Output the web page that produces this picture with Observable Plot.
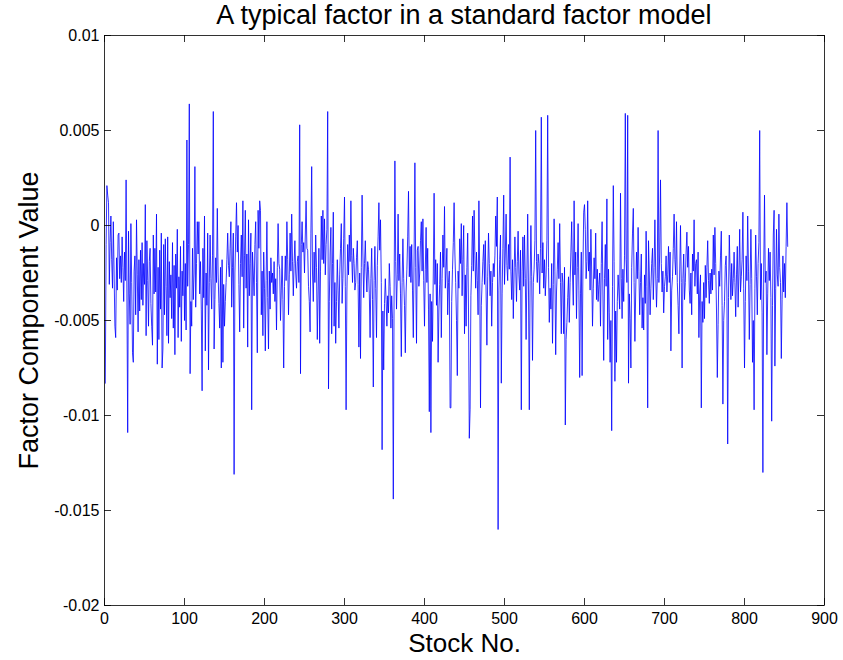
<!DOCTYPE html>
<html>
<head>
<meta charset="utf-8">
<script src="https://cdn.jsdelivr.net/npm/d3@7"></script>
<script src="https://cdn.jsdelivr.net/npm/@observablehq/plot@0.6"></script>
<style>
  body { margin: 0; background: #fff; font-family: "Liberation Sans", Arial, sans-serif; }
  #title { width: 843px; height: 29px; box-sizing: border-box; padding-top: 2px; padding-left: 85px;
           text-align: center; font-size: 27px; line-height: 27px; color: #000; white-space: nowrap; }
  #chart svg { overflow: visible; display: block; }
</style>
</head>
<body>
<div id="title"></div>
<div id="chart"></div>
<script>
const chartTitle = "A typical factor in a standard factor model";
const xLabel = "Stock No.";
const yLabel = "Factor Component Value";
const xTicks = [0, 100, 200, 300, 400, 500, 600, 700, 800, 900];
const yTicks = [-0.02, -0.015, -0.01, -0.005, 0, 0.005, 0.01];
const yTickLabels = ["-0.02", "-0.015", "-0.01", "-0.005", "0", "0.005", "0.01"];

// factor component value for each stock (stock numbers 1..N)
const factorValues = [
-0.0083,-0.001,0.0021,0.0016,0.0012,-0.0031,-0.0009,0.0005,-0.0018,-0.0033,0.0002,-0.0025,-0.0053,-0.0059,-0.0017,-0.0034,-0.0005,-0.0004,-0.0028,-0.0016,-0.003,-0.0006,-0.0022,-0.004,-0.0014,
-0.0029,0.0024,-0.0035,-0.0109,-0.0003,-0.0036,-0.0052,0.0001,-0.003,-0.0067,-0.0072,-0.0024,-0.0016,-0.0047,0.0003,-0.0026,-0.0056,-0.0018,-0.0045,-0.0013,-0.0039,-0.0009,-0.0042,-0.002,-0.0031,
0.0011,-0.0058,-0.0008,-0.0029,-0.0053,-0.0019,-0.0012,-0.0041,-0.0053,-0.0063,-0.0005,-0.0036,-0.0012,-0.0035,0.0006,-0.0073,-0.0022,-0.006,-0.0013,-0.0044,-0.0004,-0.0075,-0.0065,-0.001,-0.0047,
-0.0007,-0.0032,-0.0058,-0.0006,-0.0062,-0.0019,-0.0038,-0.0026,-0.0049,-0.0009,-0.0054,-0.0021,-0.0068,-0.0015,-0.0033,-0.0002,-0.0059,-0.0027,-0.0043,-0.0011,-0.0061,-0.0024,-0.0037,-0.0008,-0.005,
-0.002,-0.0055,0.0045,-0.0032,-0.001,0.0064,-0.0078,-0.004,-0.0053,-0.0012,-0.0039,-0.0025,0.0031,-0.0043,-0.002,0.0002,-0.0015,0.0002,-0.0036,-0.0019,-0.0044,-0.0087,-0.0012,-0.0038,0.0005,
-0.0066,-0.0025,-0.0042,-0.0004,-0.0076,-0.003,-0.0005,-0.0028,-0.0044,-0.0016,0.006,-0.0065,-0.0039,-0.0017,-0.003,0.0009,-0.0025,-0.0041,-0.0054,-0.0022,-0.0075,-0.0018,-0.0072,-0.0031,-0.0053,
-0.004,-0.003,-0.0018,-0.0004,-0.0021,-0.0027,-0.0012,0.0002,-0.0043,-0.0022,-0.0004,-0.0131,-0.0025,-0.0006,0.0012,-0.0014,0,-0.0031,-0.0056,-0.002,-0.0005,-0.0027,0.0013,-0.0054,-0.0016,0.0008,-0.0033,-0.0015,-0.0064,0.0003,-0.0037,-0.002,-0.0004,-0.0097,
-0.0014,-0.0025,-0.0037,-0.001,0.0002,-0.003,-0.0067,0.0008,-0.0012,0.0013,0.0008,-0.0047,-0.0024,-0.0058,-0.0014,-0.0033,-0.0066,-0.0029,0.0002,-0.0038,-0.0065,-0.0024,-0.0044,-0.0017,-0.003,-0.0025,-0.0036,-0.0019,-0.004,-0.0028,-0.0055,-0.0022,0.0001,-0.002,-0.0023,-0.005,-0.0034,-0.0016,-0.0039,-0.0075,-0.0032,-0.0016,-0.0029,0.0002,-0.0018,-0.0047,-0.0026,-0.0004,-0.0024,0.0006,-0.0019,-0.0037,-0.002,-0.0008,-0.0025,-0.0033,-0.0019,-0.0016,-0.003,0.0053,-0.0078,-0.001,0.0002,-0.0014,-0.0009,-0.0025,
-0.0005,0.0013,-0.0012,-0.0013,-0.0032,-0.004,-0.0056,-0.0004,0.0031,-0.0025,-0.004,-0.0014,-0.003,-0.0005,-0.0022,-0.006,-0.0035,-0.0012,-0.0062,-0.0024,0.0005,-0.0018,0.0008,-0.002,0.00035,-0.0026,-0.001,-0.0002,0.006,-0.0086,
-0.004,-0.0015,-0.0001,-0.0057,-0.002,0.0007,-0.0053,-0.003,-0.0062,-0.004,
-0.0018,-0.0034,-0.0054,-0.0026,-0.0012,0.0001,-0.0041,-0.0028,-0.0007,0.0015,
-0.0032,-0.0097,-0.0035,-0.001,-0.0026,-0.0005,-0.0019,0.0013,-0.0016,-0.003,
-0.0012,-0.002,-0.0034,-0.003,-0.0017,-0.0008,-0.0031,-0.0064,-0.0025,-0.007,
-0.0022,0.0016,-0.0015,-0.0038,-0.002,-0.0008,-0.0024,-0.0035,-0.0019,-0.0023,
-0.0036,-0.0059,-0.0028,-0.0012,-0.0039,-0.0085,-0.0029,-0.0011,-0.0033,-0.0059,
-0.0021,-0.0006,0.0012,-0.0013,0.0003,-0.003,-0.0118,-0.0045,-0.0076,-0.0041,
-0.0028,-0.0039,-0.0053,-0.0037,-0.0046,-0.002,-0.0032,-0.0054,-0.0037,-0.0049,
-0.0144,-0.0035,0.0034,-0.0019,-0.0044,-0.0026,0.0006,-0.0029,-0.0015,-0.0036,
-0.0069,-0.003,-0.0007,-0.0028,-0.0042,-0.0067,-0.0035,-0.0023,-0.0006,0.0018,
-0.0027,-0.0011,-0.003,-0.001,-0.0034,-0.0059,-0.0015,0.0033,-0.0022,-0.0062,
-0.0013,-0.0011,-0.0032,-0.0025,-0.0008,0.0002,-0.0024,0.00035,-0.0029,-0.0053,
-0.0023,-0.0001,-0.003,-0.0012,-0.0044,-0.0098,-0.0036,-0.0109,-0.004,-0.0061,
-0.0025,0.0017,-0.0031,-0.0018,-0.0042,-0.002,-0.0072,-0.0045,-0.0031,-0.0014,
-0.0059,-0.0028,-0.0005,-0.0022,0.001,-0.0033,-0.0023,-0.0012,-0.0047,-0.003,
-0.0024,-0.0096,
-0.0096,-0.004,-0.0023,-0.0009,0.0012,-0.0015,-0.003,-0.005,-0.0079,-0.0024,
-0.0033,-0.0007,-0.002,0.0001,-0.0037,-0.0018,0,-0.0057,-0.0026,-0.0053,
-0.0022,-0.0004,-0.0045,-0.0112,-0.0097,-0.0037,-0.0021,0.0005,-0.0024,0.0008,
-0.0016,-0.0033,-0.0014,-0.0029,-0.0047,0.0013,-0.0025,-0.0096,-0.0042,-0.003,
-0.0019,-0.001,-0.0031,-0.0008,-0.0035,-0.0063,-0.0027,-0.0004,-0.002,-0.0037,
-0.0024,-0.0053,-0.003,-0.002,-0.0027,-0.0016,0.0005,-0.0011,0.0015,-0.016,
-0.0034,-0.0018,-0.0005,-0.0083,-0.0036,-0.0012,0.0016,-0.0031,-0.0015,0.0006,
-0.0021,-0.0029,-0.001,-0.0023,0.0036,-0.0024,-0.0039,-0.0018,-0.0049,-0.0025,
-0.0006,-0.0022,-0.004,-0.0019,-0.0003,-0.0026,-0.0034,-0.0013,-0.0097,-0.0024,
-0.0006,-0.0032,-0.0005,-0.0028,-0.006,-0.0025,0.0006,-0.0035,-0.0097,-0.0029,
0,-0.0027,-0.0071,-0.003,-0.0023,-0.0008,0.005,-0.0019,-0.003,-0.0015,
-0.002,-0.0036,-0.0012,0.0057,-0.0025,-0.0009,-0.0033,-0.0018,-0.0037,-0.0026,
-0.0008,0.0058,-0.0022,-0.0051,-0.0033,-0.0044,-0.002,-0.0062,-0.0031,0.00035,
-0.0024,-0.0068,-0.0035,-0.0023,-0.0009,-0.0028,0.0001,-0.003,-0.0057,-0.0025,
-0.003,-0.0057,-0.0022,-0.0105,
-0.006,-0.0051,-0.0038,-0.0027,-0.0051,-0.003,-0.0014,0.0002,-0.0025,-0.0042,
0.0013,-0.0026,-0.0014,-0.0049,-0.0022,0.0001,-0.0034,-0.008,-0.0036,-0.0014,
-0.0079,-0.0025,0.0007,0.0011,-0.0002,-0.0028,-0.0019,0.0013,-0.0024,-0.0014,
-0.0034,-0.0002,-0.0025,-0.0053,-0.0033,-0.0017,-0.0028,-0.0004,-0.0039,-0.0023,
-0.004,-0.0031,-0.0025,-0.0053,-0.002,0.0002,-0.0035,-0.0071,-0.0028,-0.001,
-0.0032,0.0014,-0.006,-0.0023,-0.0046,-0.0072,-0.005,-0.0108,-0.0032,0.0021,
-0.0019,-0.0082,-0.0045,-0.0072,-0.004,-0.0026,-0.0035,-0.0044,0.0017,-0.0028,
-0.0049,-0.0023,-0.004,-0.0016,0.0059,-0.0018,-0.003,0.0058,-0.0083,-0.0036,
-0.0049,-0.0075,-0.0022,-0.0004,0.0009,-0.003,-0.0061,-0.0035,-0.0014,-0.0028,
-0.0001,-0.0024,-0.0047,-0.003,-0.0015,-0.0054,-0.0038,-0.0055,-0.0026,-0.0041,
-0.0003,-0.0032,-0.0096,-0.0008,-0.0025,-0.0047,-0.0033,-0.002,-0.0012,-0.0039,
-0.0022,0.0003,-0.0025,-0.0043,-0.0028,0.005,-0.003,-0.0015,0.0024,-0.002,
-0.0035,-0.0024,-0.0046,-0.0032,-0.0027,-0.0016,-0.0035,-0.0026,-0.0011,-0.003,
-0.0014,-0.0066,-0.0034,-0.0027,-0.0012,0.0006,-0.0018,-0.0026,0.0002,-0.003,
-0.0042,-0.0057,-0.0025,0,
-0.003,-0.0075,-0.0028,-0.0015,-0.0039,-0.003,-0.0014,-0.00035,-0.0022,-0.0011,
-0.0034,-0.0041,-0.0025,-0.0047,-0.0015,-0.0024,0.0003,-0.0032,-0.002,-0.0018,
-0.0036,-0.0014,-0.0059,-0.0035,-0.0026,-0.0096,-0.004,-0.0051,-0.003,-0.0049,
-0.0021,-0.0038,-0.0022,-0.0008,-0.0029,-0.0041,-0.0025,-0.0036,-0.0023,-0.0034,
-0.0005,-0.0026,-0.0001,-0.002,-0.0045,-0.008,-0.0052,-0.0024,-0.0032,-0.0016,
-0.0003,-0.0042,-0.0094,-0.005,-0.004,-0.0021,-0.0016,-0.0035,-0.0115,-0.0038,
-0.0005,-0.0024,-0.0039,-0.002,-0.0037,-0.0028,-0.0014,-0.003,-0.0048,-0.0026,
-0.0011,-0.0043,-0.0025,-0.0002,-0.0035,-0.0027,-0.0018,0.0007,-0.0033,-0.0075,
-0.004,-0.0016,-0.0029,0.0005,-0.0024,-0.006,-0.0031,-0.0002,-0.0028,-0.0072,
-0.005,-0.0097,-0.0033,-0.0005,-0.0027,-0.0047,-0.002,-0.0009,0.005,-0.0039,
-0.002,-0.0046,-0.013,-0.0025,0.0016,-0.003,-0.0024,-0.0068,-0.0036,-0.0012,
-0.0029,-0.0014,-0.0038,-0.0103,-0.0042,-0.0005,0.0008,-0.0074,-0.0033,-0.0002,
-0.0026,-0.0032,0.0006,-0.0022,-0.003,-0.007,-0.0039,-0.0016,-0.0035,-0.002,
-0.0038,-0.0011,0.0012,-0.0011
];
const stockNos = factorValues.map((_, i) => i + 1);
const table = stockNos.map((s, i) => ({stock: s, value: factorValues[i]}));

document.getElementById("title").textContent = chartTitle;

const W = 843, H = 631, mL = 104, mR = 19, mT = 6, mB = 55;
const pw = W - mL - mR, ph = H - mT - mB;
const tickLen = 7;
const ink = "#000";

const chart = Plot.plot({
  width: W, height: H,
  marginLeft: mL, marginRight: mR, marginTop: mT, marginBottom: mB,
  style: {fontFamily: "'Liberation Sans', Arial, sans-serif", fontSize: "16px", color: ink, background: "#fff", overflow: "visible"},
  x: {domain: [0, 900]},
  y: {domain: [-0.02, 0.01]},
  marks: [
    Plot.axisX(xTicks, {tickSize: 0, tickPadding: 7, label: null, fontSize: 16}),
    Plot.axisY(yTicks, {tickSize: 0, tickPadding: 5, label: null, fontSize: 16,
      tickFormat: d => yTickLabels[yTicks.indexOf(d)]}),
    Plot.lineY(table, {x: "stock", y: "value", stroke: "#0000ff", strokeWidth: 0.8}),
    Plot.tickX(xTicks, {x: d => d, insetTop: ph - tickLen, stroke: ink, strokeWidth: 0.8}),
    Plot.tickX(xTicks, {x: d => d, insetBottom: ph - tickLen, stroke: ink, strokeWidth: 0.8}),
    Plot.tickY(yTicks, {y: d => d, insetRight: pw - tickLen, stroke: ink, strokeWidth: 0.8}),
    Plot.tickY(yTicks, {y: d => d, insetLeft: pw - tickLen, stroke: ink, strokeWidth: 0.8}),
    Plot.frame({stroke: ink, strokeWidth: 0.8}),
    Plot.text([xLabel], {text: d => d, frameAnchor: "bottom", lineAnchor: "middle", textAnchor: "middle",
      dy: 38, fontSize: 26, fill: ink}),
    Plot.text([yLabel], {text: d => d, frameAnchor: "left", lineAnchor: "middle", textAnchor: "middle",
      rotate: -90, dx: -75, fontSize: 27, fill: ink})
  ]
});
document.getElementById("chart").appendChild(chart);
</script>
</body>
</html>
